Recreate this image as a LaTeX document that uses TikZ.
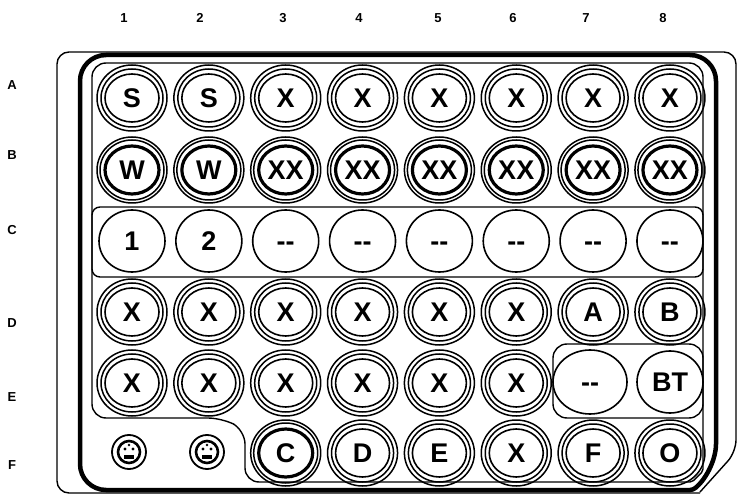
\documentclass[tikz,border=0pt]{standalone}
\usepackage{fontspec}
\setmainfont{Liberation Sans}
\usetikzlibrary{shapes.geometric}
\begin{document}
\begin{tikzpicture}[x=1pt,y=-1pt,
  wellin/.style={ellipse,draw,line width=1.6pt,minimum width=54pt,minimum height=48pt,inner sep=0pt,text height=19pt,text depth=0pt,font=\fontsize{27}{27}\selectfont\bfseries},
  wellthick/.style={wellin,line width=3.2pt},
  wellplain/.style={wellin,line width=1.6pt,minimum width=66pt,minimum height=62pt},
  lab/.style={font=\fontsize{13}{13}\selectfont\bfseries,inner sep=0pt},
  ring/.style={line width=1.5pt},
  frame/.style={line width=1.4pt},
  thickframe/.style={line width=4.5pt},
]
\useasboundingbox (0,0) rectangle (741,502);
% column and row labels
\foreach \t/\xx in {1/124,2/200,3/283,4/359,5/438,6/513,7/586,8/663}
  \node[lab] (col\t) at (\xx,18) {\t};
\foreach \t/\yy in {A/85,B/155,C/230,D/323,E/397,F/465}
  \node[lab] (row\t) at (12,\yy) {\t};
% outer skirt (thin)
\draw[frame,rounded corners=12] (700,493) -- (57,493) -- (57,52) -- (736,52) -- (736,452) [rounded corners=2]-- (700,492);
% thick frame
\draw[thickframe,rounded corners=26] (80,490) -- (80,55) -- (716,55) -- (716,470) [rounded corners=3]-- (693,490) [rounded corners=26]-- cycle;
% inner thin frame
\draw[frame,rounded corners=14] (92,63) -- (703,63) [rounded corners=2]-- (703,471) -- (692,482) [rounded corners=14]-- (245,482) -- (245,430) -- (222,418) -- (92,418) -- cycle;
% row C band
\draw[frame,rounded corners=8] (92,207) rectangle (703,277);
% E7-E8 box
\draw[frame,rounded corners=14] (553,344) rectangle (703,418);
% wells
\newcommand\triplewell[4]{%
  \node[wellin] (#1) at (#2,#3) {#4};
  \draw[ring] (#1.center) ellipse [x radius=31pt, y radius=29pt];
  \draw[ring] (#1.center) ellipse [x radius=35pt, y radius=33pt];}
\newcommand\thickwell[4]{%
  \node[wellthick] (#1) at (#2,#3) {#4};
  \draw[ring] (#1.center) ellipse [x radius=32pt, y radius=30pt];
  \draw[ring] (#1.center) ellipse [x radius=35pt, y radius=33pt];}
\newcommand\plainwell[4]{%
  \node[wellplain] (#1) at (#2,#3) {#4};}
% row A
\foreach \c/\t in {1/S,2/S,3/X,4/X,5/X,6/X,7/X,8/X}
  {\pgfmathsetmacro\xx{132+76.85*(\c-1)}\triplewell{A\c}{\xx}{98}{\t}}
% row B
\foreach \c/\t in {1/W,2/W,3/XX,4/XX,5/XX,6/XX,7/XX,8/XX}
  {\pgfmathsetmacro\xx{132+76.85*(\c-1)}\thickwell{B\c}{\xx}{170}{\t}}
% row C
\foreach \c/\t in {1/1,2/2,3/-{}-,4/-{}-,5/-{}-,6/-{}-,7/-{}-,8/-{}-}
  {\pgfmathsetmacro\xx{132+76.85*(\c-1)}\plainwell{C\c}{\xx}{241}{\t}}
% row D
\foreach \c/\t in {1/X,2/X,3/X,4/X,5/X,6/X,7/A,8/B}
  {\pgfmathsetmacro\xx{132+76.85*(\c-1)}\triplewell{D\c}{\xx}{312}{\t}}
% row E
\foreach \c/\t in {1/X,2/X,3/X,4/X,5/X,6/X}
  {\pgfmathsetmacro\xx{132+76.85*(\c-1)}\triplewell{E\c}{\xx}{383}{\t}}
\node[wellplain,minimum width=74pt,minimum height=64pt] (E7) at (590,382) {-{}-};
\plainwell{E8}{670}{382}{BT}
% row F
\thickwell{F3}{285.7}{453}{C}
\foreach \c/\t in {4/D,5/E,6/X,7/F,8/O}
  {\pgfmathsetmacro\xx{132+76.85*(\c-1)}\triplewell{F\c}{\xx}{453}{\t}}
% small wells F1, F2
\foreach \n/\xx in {F1/129,F2/207}{
  \node[circle,draw,line width=1.8pt,minimum size=34pt,inner sep=0pt] (\n) at (\xx,452) {};
  \draw[line width=2.6pt] (\n.center) circle [radius=11pt];
  \fill (\n.center) ++(-4,-3) circle [radius=1.6pt];
  \fill (\n.center) ++(4,-3) circle [radius=1.6pt];
  \fill (\n.center) ++(0,-7) circle [radius=1.3pt];
  \fill (\n.center) ++(-5,3) rectangle ++(10,3.5);
}
\end{tikzpicture}
\end{document}
